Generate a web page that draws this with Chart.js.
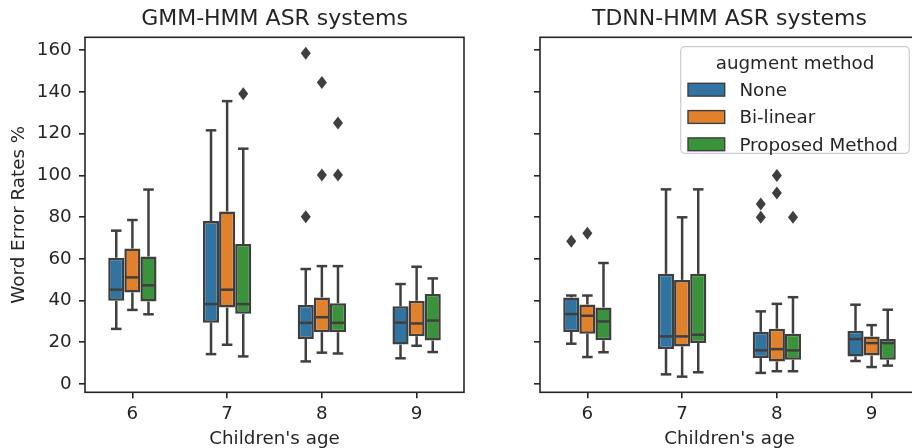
<!DOCTYPE html>
<html>
<head>
<meta charset="utf-8">
<script src="https://cdn.jsdelivr.net/npm/chart.js@4"></script>
<style>
  html, body { margin: 0; padding: 0; background: #fff; overflow: hidden; }
  #wrap { position: relative; width: 912px; height: 448px; overflow: hidden; }
  canvas { position: absolute; top: 0; }
  #gmmChart { left: 0; }
  #tdnnChart { left: 470px; }
</style>
</head>
<body>
<div id="wrap">
  <canvas id="gmmChart" width="470" height="470"></canvas>
  <canvas id="tdnnChart" width="456" height="470"></canvas>
</div>
<script>
// 年齢カテゴリと系列
const ages = ['6', '7', '8', '9'];
const methods = ['None', 'Bi-linear', 'Proposed Method'];
const methodColors = ['#3274a1', '#e1812c', '#3a923a'];
const yTickValues = [0, 20, 40, 60, 80, 100, 120, 140, 160];

// GMM-HMM（行: None, Bi-linear, Proposed / 列: 6〜9歳）
const gmmLow    = [[26.4, 14.3, 10.8, 12.3], [35.5, 18.8, 15.0, 18.3], [33.4, 13.2, 14.6, 15.3]];
const gmmQ1     = [[39.9, 29.4, 21.6, 18.9], [43.9, 36.6, 24.8, 22.9], [39.5, 33.6, 24.8, 20.8]];
const gmmMedian = [[45.2, 38.3, 29.3, 29.4], [51.1, 45.2, 32.0, 29.0], [47.3, 38.3, 29.3, 30.4]];
const gmmQ3     = [[60.5, 78.1, 37.9, 37.2], [64.9, 82.7, 41.5, 39.9], [61.1, 67.1, 38.7, 43.1]];
const gmmHigh   = [[73.5, 121.6, 55.1, 47.9], [78.6, 135.6, 56.5, 56.2], [93.2, 112.8, 56.5, 50.6]];
const gmmOutliers = [
  [[], [], [158.5, 80.2], []],
  [[], [], [144.5, 100.2], []],
  [[], [139.1], [125.1, 100.2], []]
];

// TDNN-HMM
const tdnnLow    = [[19.3, 4.6, 5.3, 11.0], [12.9, 3.5, 6.1, 8.1], [15.2, 5.6, 6.1, 8.8]];
const tdnnQ1     = [[24.9, 16.7, 12.4, 13.2], [24.1, 18.0, 10.8, 13.6], [20.9, 19.6, 11.6, 11.6]];
const tdnnMedian = [[33.5, 22.8, 16.1, 21.5], [32.7, 22.8, 16.7, 19.6], [30.0, 23.6, 16.1, 19.6]];
const tdnnQ3     = [[41.5, 52.8, 25.0, 25.5], [38.1, 49.9, 26.5, 22.8], [36.7, 52.8, 24.1, 21.5]];
const tdnnHigh   = [[42.4, 93.3, 34.8, 38.0], [42.4, 79.9, 38.4, 28.2], [58.0, 93.3, 41.6, 35.6]];
const tdnnOutliers = [
  [[68.4], [], [86.3, 79.9], []],
  [[72.2], [], [100.0, 91.5], []],
  [[], [], [79.9], []]
];

const FONT = 'DejaVu Sans';
const TEXT = '#262626';
const LINE = '#3f3f3f';

/**
 * 箱ひげの「ひげ・中央値・外れ値」と枠線を描く
 */
const boxExtras = {
  id: 'boxExtras',
  afterDatasetsDraw(chart, args, opts) {
    const ctx = chart.ctx;
    const yScale = chart.scales.y;
    const py = v => yScale.getPixelForValue(v);
    ctx.save();
    ctx.strokeStyle = LINE;
    ctx.fillStyle = LINE;
    ctx.lineWidth = 2.5;
    const seg = (x1, y1, x2, y2, cap) => {
      ctx.lineCap = cap;
      ctx.beginPath();
      ctx.moveTo(x1, y1);
      ctx.lineTo(x2, y2);
      ctx.stroke();
    };
    chart.data.datasets.forEach((ds, i) => {
      const meta = chart.getDatasetMeta(i);
      meta.data.forEach((bar, j) => {
        const x = bar.x;
        const w = bar.width;
        // ひげ
        seg(x, py(opts.q1[i][j]), x, py(opts.low[i][j]), 'butt');
        seg(x, py(opts.q3[i][j]), x, py(opts.high[i][j]), 'butt');
        // キャップ
        seg(x - w / 4, py(opts.low[i][j]), x + w / 4, py(opts.low[i][j]), 'square');
        seg(x - w / 4, py(opts.high[i][j]), x + w / 4, py(opts.high[i][j]), 'square');
        // 中央値
        seg(x - w / 2 + 1, py(opts.median[i][j]), x + w / 2 - 1, py(opts.median[i][j]), 'butt');
        // 外れ値（菱形）
        opts.outliers[i][j].forEach(v => {
          const yy = py(v);
          ctx.beginPath();
          ctx.moveTo(x, yy - 6.5);
          ctx.lineTo(x + 5, yy);
          ctx.lineTo(x, yy + 6.5);
          ctx.lineTo(x - 5, yy);
          ctx.closePath();
          ctx.fill();
        });
      });
    });
    ctx.restore();
  },
  afterDraw(chart) {
    const ctx = chart.ctx;
    const a = chart.chartArea;
    ctx.save();
    ctx.strokeStyle = TEXT;
    ctx.lineWidth = 1.6;
    ctx.strokeRect(a.left, a.top, a.right - a.left, a.bottom - a.top);
    ctx.restore();
  }
};

/**
 * 凡例（右側グラフの右上、枠内）
 */
const innerLegend = {
  id: 'innerLegend',
  afterDraw(chart, args, opts) {
    if (!opts.show) return;
    const ctx = chart.ctx;
    const a = chart.chartArea;
    const right = a.right - 9.7;
    const top = a.top + 9.4;
    const left = right - 228.6;
    const bottom = top + 106.6;
    ctx.save();
    // 枠
    ctx.beginPath();
    ctx.roundRect(left, top, right - left, bottom - top, 4);
    ctx.fillStyle = 'rgba(255,255,255,0.8)';
    ctx.fill();
    ctx.strokeStyle = '#cccccc';
    ctx.lineWidth = 1.2;
    ctx.stroke();
    // タイトル
    ctx.fillStyle = TEXT;
    ctx.font = '18.3px "' + FONT + '"';
    ctx.textAlign = 'center';
    ctx.textBaseline = 'alphabetic';
    ctx.fillText('augment method', (left + right) / 2, top + 22.6);
    // 各項目
    ctx.textAlign = 'left';
    methods.forEach((m, i) => {
      const base = top + 49.3 + i * 27.3;
      ctx.fillStyle = methodColors[i];
      ctx.fillRect(left + 7.3, base - 12.7, 36.7, 12.8);
      ctx.strokeStyle = LINE;
      ctx.lineWidth = 1.4;
      ctx.strokeRect(left + 7.3, base - 12.7, 36.7, 12.8);
      ctx.fillStyle = TEXT;
      ctx.fillText(m, left + 58.7, base);
    });
    ctx.restore();
  }
};

function makeChart(canvasId, title, stats, opts) {
  const ctx = document.getElementById(canvasId).getContext('2d');
  return new Chart(ctx, {
    type: 'bar',
    data: {
      labels: ages,
      datasets: methods.map((m, i) => ({
        label: m,
        data: stats.q1[i].map((v, j) => [v, stats.q3[i][j]]),
        backgroundColor: methodColors[i],
        borderColor: LINE,
        borderWidth: 2.5,
        borderSkipped: false,
        categoryPercentage: 0.51,
        barPercentage: 1.0
      }))
    },
    options: {
      responsive: false,
      animation: false,
      layout: { padding: { left: 0, right: opts.padRight, top: 0, bottom: 0 } },
      plugins: {
        legend: { display: false },
        tooltip: { enabled: false },
        title: {
          display: true,
          fullSize: false,
          text: title,
          color: TEXT,
          font: { family: FONT, size: 22, weight: 'normal' },
          padding: { top: 5.9, bottom: 5 }
        },
        boxExtras: stats,
        innerLegend: { show: opts.legend }
      },
      scales: {
        x: {
          type: 'category',
          offset: true,
          grid: { display: true, drawOnChartArea: false, drawTicks: true, tickLength: 6, offset: false, color: TEXT, lineWidth: 1.6 },
          border: { display: false },
          ticks: { color: TEXT, font: { family: FONT, size: 18.3 }, padding: 5 },
          title: {
            display: true,
            text: "Children's age",
            color: TEXT,
            font: { family: FONT, size: 18.3 },
            padding: { top: 0, bottom: 19.6 }
          },
          afterFit: s => { s.height = 77.7; }
        },
        y: {
          type: 'linear',
          min: -4,
          max: 166.2,
          grid: { display: true, drawOnChartArea: false, drawTicks: true, tickLength: 6, color: TEXT, lineWidth: 1.6 },
          border: { display: false },
          ticks: { display: opts.yLabels, color: TEXT, font: { family: FONT, size: 18.3 }, padding: 7.3 },
          afterBuildTicks: s => { s.ticks = yTickValues.map(v => ({ value: v })); },
          title: {
            display: opts.yLabels,
            text: 'Word Error Rates %',
            color: TEXT,
            font: { family: FONT, size: 18.3 },
            padding: { top: 8.2, bottom: 0 }
          },
          afterFit: s => { s.width = opts.yWidth; }
        }
      }
    },
    plugins: [boxExtras, innerLegend]
  });
}

makeChart('gmmChart', 'GMM-HMM ASR systems', {
  low: gmmLow, q1: gmmQ1, median: gmmMedian, q3: gmmQ3, high: gmmHigh, outliers: gmmOutliers
}, { yLabels: true, yWidth: 85, padRight: 6, legend: false });

makeChart('tdnnChart', 'TDNN-HMM ASR systems', {
  low: tdnnLow, q1: tdnnQ1, median: tdnnMedian, q3: tdnnQ3, high: tdnnHigh, outliers: tdnnOutliers
}, { yLabels: false, yWidth: 70, padRight: 7, legend: true });
</script>
</body>
</html>
